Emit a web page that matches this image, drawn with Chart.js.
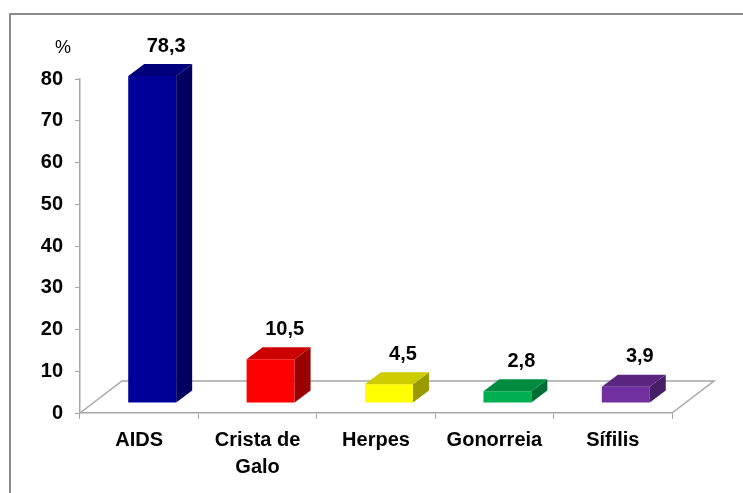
<!DOCTYPE html>
<html>
<head>
<meta charset="utf-8">
<script src="https://cdn.jsdelivr.net/npm/chart.js@4.4.1/dist/chart.umd.min.js"></script>
<style>
  html, body { margin: 0; padding: 0; background: #fff; }
  #wrap { width: 743px; height: 493px; }
</style>
</head>
<body>
<div id="wrap"><canvas id="chart_dst" width="743" height="493"></canvas></div>
<script>
var categories = ['AIDS', ['Crista de', 'Galo'], 'Herpes', 'Gonorreia', 'Sífilis'];
var values = [78.3, 10.5, 4.5, 2.8, 3.9];
var frontColors = ['#000099', '#ff0000', '#ffff00', '#00b050', '#7030a0'];
var topColors = ['#00007a', '#cc0000', '#cccc00', '#008c40', '#5a2680'];
var sideColors = ['#000060', '#990000', '#999900', '#006e32', '#461e66'];

var yMin = 0;
var yMax = 80;
var yStep = 10;

// depth settings of the fake 3d
var floorDx = 42, floorDy = 32;
var barOffX = 13, barOffY = 10;
var barDx = 16, barDy = 12;

var frame3d = {
    id: 'frame3d',
    beforeDraw: function(chart) {
        var ctx = chart.ctx;
        ctx.save();
        ctx.fillStyle = '#fff';
        ctx.fillRect(0, 0, chart.width, chart.height);
        ctx.strokeStyle = '#8c8c8c';
        ctx.lineWidth = 2;
        ctx.beginPath();
        ctx.moveTo(10, chart.height);
        ctx.lineTo(10, 14);
        ctx.lineTo(chart.width, 14);
        ctx.stroke();
        // % label
        ctx.fillStyle = '#000';
        ctx.font = '18px "Liberation Sans", Arial, sans-serif';
        ctx.textAlign = 'center';
        ctx.textBaseline = 'middle';
        ctx.fillText('%', 63, 48);
        ctx.restore();
    },
    beforeDatasetsDraw: function(chart) {
        var ctx = chart.ctx;
        var a = chart.chartArea;
        var y0 = chart.scales.y.getPixelForValue(0);
        ctx.save();
        ctx.strokeStyle = '#a6a6a6';
        ctx.lineWidth = 1.5;
        ctx.beginPath();
        ctx.moveTo(a.left, y0);
        ctx.lineTo(a.left + floorDx, y0 - floorDy);
        ctx.lineTo(a.right + floorDx, y0 - floorDy);
        ctx.lineTo(a.right, y0);
        ctx.stroke();
        ctx.restore();
    },
    beforeDatasetDraw: function(chart) {
        chart.ctx.save();
        chart.ctx.translate(barOffX, -barOffY);
    },
    afterDatasetDraw: function(chart) {
        var ctx = chart.ctx;
        ctx.restore();
        var bars = chart.getDatasetMeta(0).data;
        ctx.save();
        for (var i = 0; i < bars.length; i++) {
            var b = bars[i];
            var x1 = b.x - b.width / 2 + barOffX;
            var x2 = b.x + b.width / 2 + barOffX;
            var top = b.y - barOffY;
            var base = b.base - barOffY;
            ctx.fillStyle = sideColors[i];
            ctx.beginPath();
            ctx.moveTo(x2, top);
            ctx.lineTo(x2 + barDx, top - barDy);
            ctx.lineTo(x2 + barDx, base - barDy);
            ctx.lineTo(x2, base);
            ctx.closePath();
            ctx.fill();
            ctx.fillStyle = topColors[i];
            ctx.beginPath();
            ctx.moveTo(x1, top);
            ctx.lineTo(x1 + barDx, top - barDy);
            ctx.lineTo(x2 + barDx, top - barDy);
            ctx.lineTo(x2, top);
            ctx.closePath();
            ctx.fill();
            ctx.fillStyle = '#000';
            ctx.font = 'bold 20px "Liberation Sans", Arial, sans-serif';
            ctx.textAlign = 'center';
            ctx.textBaseline = 'middle';
            ctx.fillText(values[i].toFixed(1).replace('.', ','), (x1 + x2) / 2 + 14, top - barDy - 18);
        }
        ctx.restore();
    }
};

var chart_dst = new Chart(document.getElementById('chart_dst'), {
    type: 'bar',
    data: {
        labels: categories,
        datasets: [{
            label: '%',
            data: values,
            backgroundColor: frontColors,
            borderWidth: 0,
            categoryPercentage: 1,
            barPercentage: 0.405
        }]
    },
    options: {
        responsive: false,
        animation: false,
        layout: {
            padding: { left: 0, right: 71, top: 79, bottom: 0 }
        },
        plugins: {
            legend: { display: false },
            tooltip: { enabled: false }
        },
        scales: {
            x: {
                grid: {
                    offset: true,
                    drawOnChartArea: false,
                    tickLength: 6,
                    color: '#a6a6a6'
                },
                border: { color: '#a6a6a6', width: 1.5 },
                ticks: {
                    color: '#000',
                    padding: 8,
                    maxRotation: 0,
                    autoSkip: false,
                    font: { family: '"Liberation Sans", Arial, sans-serif', size: 20, weight: 'bold', lineHeight: 1.35 }
                },
                afterFit: function(scale) { scale.height = 80; }
            },
            y: {
                min: yMin,
                max: yMax,
                grid: {
                    drawOnChartArea: false,
                    tickLength: 5,
                    color: '#a6a6a6'
                },
                border: { color: '#a6a6a6', width: 1.5 },
                ticks: {
                    stepSize: yStep,
                    color: '#000',
                    padding: 12,
                    font: { family: '"Liberation Sans", Arial, sans-serif', size: 20, weight: 'bold' }
                },
                afterFit: function(scale) { scale.width = 80; }
            }
        }
    },
    plugins: [frame3d]
});
</script>
</body>
</html>
